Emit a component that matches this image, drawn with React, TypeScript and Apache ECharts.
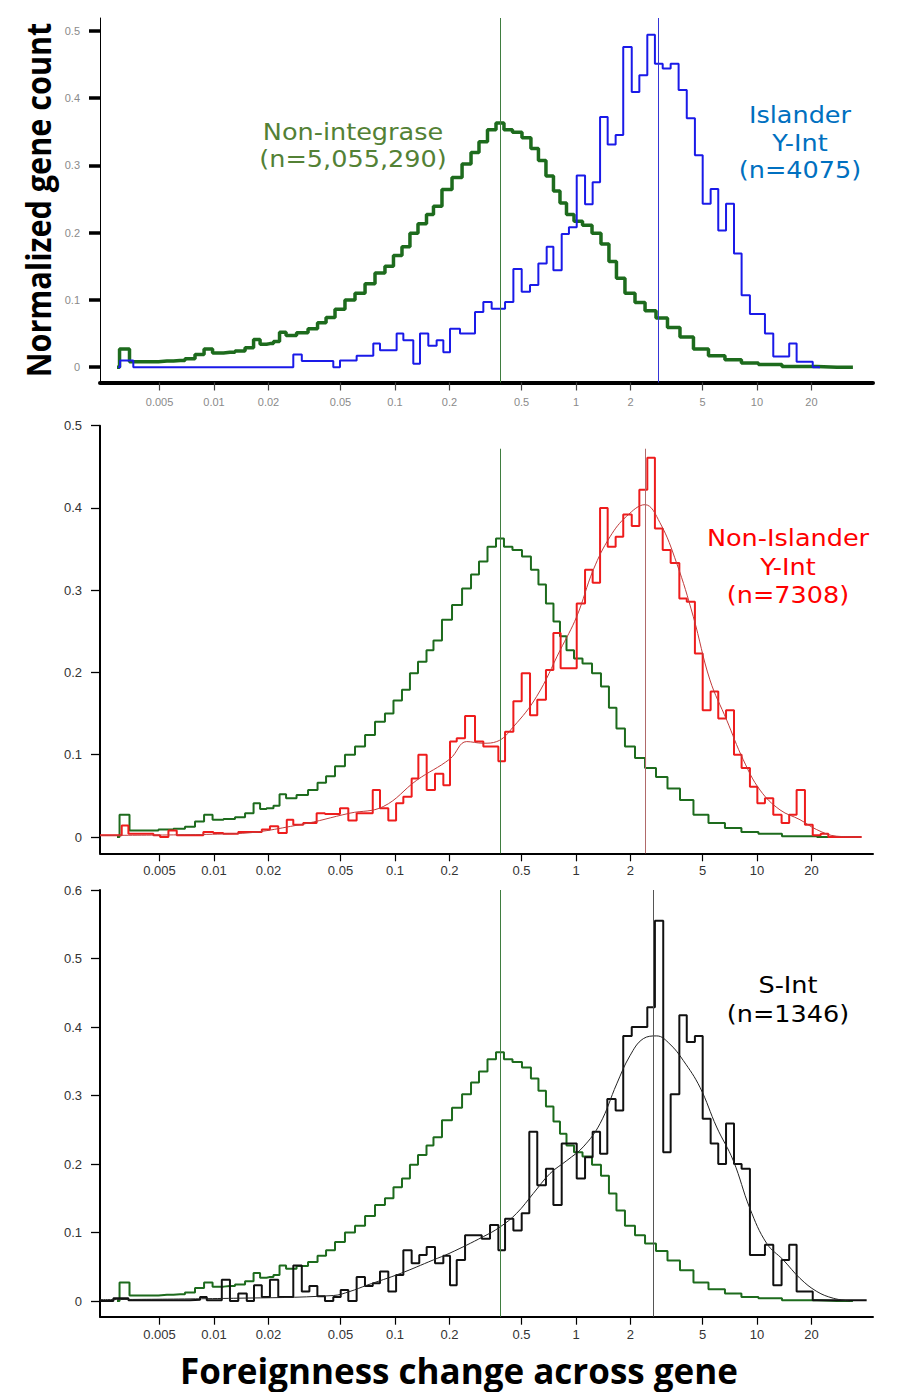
import React, { useEffect, useRef } from 'react';
import * as echarts from 'echarts';

// ---------- axis ticks ----------
const X_TICKS = [0.005, 0.01, 0.02, 0.05, 0.1, 0.2, 0.5, 1, 2, 5, 10, 20];
const Y_TICKS_TOP = [0, 0.1, 0.2, 0.3, 0.4, 0.5];
const Y_TICKS_MID = [0, 0.1, 0.2, 0.3, 0.4, 0.5];
const Y_TICKS_BOT = [0, 0.1, 0.2, 0.3, 0.4, 0.5, 0.6];

// x range, in log10(foreignness change)
const X_MIN_LOG10 = -2.63;
const X_MAX_LOG10 = 1.641;

// medians (vertical lines), raw foreignness change
const NONINT_MEDIAN = 0.38;
const ISLANDER_MEDIAN = 2.84;
const NONISL_MEDIAN = 2.4;
const SINT_MEDIAN = 2.67;

// ---------- Non-integrase (green) : log10(x) samples and normalized counts ----------
const GREEN_X = [-2.536, -2.508, -2.481, -2.453, -2.354, -2.26, -2.188, -2.133, -2.077, -2.033,
  -1.983, -1.912, -1.856, -1.801, -1.762, -1.729, -1.691, -1.652, -1.624, -1.58,
  -1.508, -1.453, -1.403, -1.359, -1.304, -1.249, -1.193, -1.138, -1.083, -1.028,
  -0.989, -0.934, -0.901, -0.845, -0.807, -0.768, -0.713, -0.657, -0.602, -0.558,
  -0.514, -0.464, -0.42, -0.376, -0.326, -0.271, -0.227, -0.188, -0.144, -0.105,
  -0.072, -0.033, 0.011, 0.061, 0.116, 0.16, 0.204, 0.243, 0.298, 0.354,
  0.409, 0.475, 0.536, 0.613, 0.685, 0.779, 0.867, 0.961, 1.055, 1.221,
  1.442, 1.53];
const GREEN_Y = [0, 0.027, 0.027, 0.008, 0.008, 0.009, 0.01, 0.0125, 0.019, 0.027,
  0.021, 0.022, 0.024, 0.029, 0.041, 0.034, 0.035, 0.038, 0.052, 0.047,
  0.051, 0.057, 0.066, 0.074, 0.086, 0.1, 0.11, 0.124, 0.14, 0.15,
  0.166, 0.179, 0.199, 0.213, 0.227, 0.239, 0.264, 0.282, 0.302, 0.319,
  0.335, 0.353, 0.363, 0.353, 0.349, 0.341, 0.325, 0.307, 0.284, 0.262,
  0.244, 0.227, 0.217, 0.211, 0.199, 0.183, 0.157, 0.132, 0.11, 0.096,
  0.084, 0.073, 0.059, 0.045, 0.027, 0.017, 0.011, 0.006, 0.004, 0.001,
  0, 0];

// ---------- Islander Y-Int (blue) histogram: bin edges (log10) and heights ----------
const BLUE_EDGES = [-2.53, -2.519, -2.446, -1.562, -1.515, -1.341, -1.304, -1.212, -1.12, -1.083,
  -0.991, -0.954, -0.899, -0.862, -0.816, -0.77, -0.733, -0.696, -0.641, -0.558,
  -0.512, -0.466, -0.392, -0.346, -0.3, -0.254, -0.208, -0.162, -0.125, -0.079,
  -0.039, 0.004, 0.05, 0.092, 0.133, 0.175, 0.219, 0.261, 0.308, 0.35,
  0.394, 0.436, 0.479, 0.523, 0.567, 0.612, 0.657, 0.7, 0.744, 0.786,
  0.829, 0.873, 0.915, 0.961, 1.044, 1.09, 1.178, 1.219, 1.308, 1.348];
const BLUE_VALUES = [0, 0.01, 0, 0.019, 0.009, 0, 0.01, 0.017, 0.035, 0.025,
  0.05, 0.04, 0.005, 0.05, 0.032, 0.04, 0.022, 0.057, 0.05, 0.082,
  0.097, 0.087, 0.097, 0.146, 0.112, 0.122, 0.154, 0.179, 0.144, 0.198,
  0.208, 0.285, 0.242, 0.275, 0.372, 0.331, 0.345, 0.476, 0.409, 0.434,
  0.494, 0.451, 0.444, 0.451, 0.412, 0.37, 0.315, 0.243, 0.265, 0.203,
  0.243, 0.169, 0.107, 0.079, 0.05, 0.016, 0.035, 0.008, 0];

// ---------- Non-Islander Y-Int (red) histogram ----------
const RED_EDGES = [-2.63, -2.51, -2.473, -2.335, -2.298, -2.252, -2.206, -2.059, -2.004, -1.949,
  -1.866, -1.819, -1.736, -1.691, -1.645, -1.598, -1.562, -1.507, -1.433, -1.387,
  -1.304, -1.258, -1.212, -1.166, -1.123, -1.083, -1.037, -0.994, -0.954, -0.908,
  -0.871, -0.825, -0.779, -0.733, -0.696, -0.659, -0.613, -0.558, -0.512, -0.429,
  -0.392, -0.346, -0.3, -0.254, -0.214, -0.166, -0.125, -0.085, 0.004, 0.05,
  0.092, 0.133, 0.175, 0.219, 0.261, 0.308, 0.35, 0.394, 0.436, 0.479,
  0.523, 0.571, 0.612, 0.657, 0.7, 0.744, 0.786, 0.829, 0.873, 0.915,
  0.961, 1.002, 1.044, 1.09, 1.136, 1.178, 1.219, 1.265, 1.308, 1.352,
  1.394, 1.578];
const RED_VALUES = [0.002, 0.014, 0.004, 0.002, 0, 0.008, 0.002, 0.006, 0.005, 0.004,
  0.006, 0.006, 0.009, 0.013, 0.005, 0.021, 0.015, 0.017, 0.029, 0.028,
  0.035, 0.02, 0.029, 0.029, 0.057, 0.035, 0.02, 0.041, 0.049, 0.071,
  0.1, 0.057, 0.077, 0.063, 0.116, 0.12, 0.147, 0.116, 0.11, 0.092,
  0.128, 0.165, 0.199, 0.148, 0.167, 0.203, 0.248, 0.205, 0.284, 0.325,
  0.309, 0.4, 0.353, 0.365, 0.392, 0.378, 0.422, 0.461, 0.375, 0.349,
  0.333, 0.29, 0.286, 0.223, 0.154, 0.177, 0.144, 0.154, 0.1, 0.084,
  0.061, 0.041, 0.047, 0.027, 0.017, 0.027, 0.057, 0.015, 0.002, 0.004,
  0];
const RED_FIT_X = [-2.63, -1.893, -1.525, -1.249, -1.065, -0.88, -0.696, -0.604, -0.512, -0.438,
  -0.346, -0.217, -0.088, 0.004, 0.096, 0.188, 0.28, 0.381, 0.464, 0.556,
  0.648, 0.74, 0.833, 0.924, 1.017, 1.127, 1.238, 1.33, 1.44, 1.578];
const RED_FIT_Y = [0.002, 0.004, 0.015, 0.029, 0.037, 0.069, 0.095, 0.116, 0.114, 0.116,
  0.134, 0.171, 0.227, 0.268, 0.325, 0.365, 0.39, 0.404, 0.382, 0.333,
  0.268, 0.191, 0.142, 0.094, 0.057, 0.033, 0.021, 0.009, 0.001, 0];

// ---------- S-Int (black) histogram ----------
const BLACK_EDGES = [-2.63, -2.556, -2.473, -2.133, -2.077, -2.04, -1.957, -1.912, -1.866, -1.819,
  -1.779, -1.736, -1.691, -1.645, -1.562, -1.515, -1.473, -1.429, -1.387, -1.341,
  -1.3, -1.258, -1.212, -1.166, -1.123, -1.083, -1.037, -0.994, -0.954, -0.908,
  -0.866, -0.825, -0.779, -0.733,
  -0.696, -0.659, -0.613, -0.521, -0.475, -0.429, -0.392, -0.346, -0.3, -0.258,
  -0.214, -0.166, -0.125, -0.079, 0.004, 0.05, 0.092, 0.133, 0.173, 0.219,
  0.261, 0.308, 0.394, 0.436, 0.482, 0.523, 0.571, 0.612, 0.657, 0.7,
  0.744, 0.786, 0.829, 0.873, 0.915, 0.961, 1.002, 1.044, 1.09, 1.136,
  1.178, 1.219, 1.308, 1.606];
const BLACK_VALUES = [0, 0.004, 0.001, 0.002, 0.006, 0.001, 0.031, 0, 0.011, 0,
  0.023, 0.006, 0.031, 0.006, 0.052, 0.014, 0.022, 0.007, 0, 0.006,
  0.016, 0, 0.035, 0.022, 0.026, 0.043, 0.014, 0.038, 0.074, 0.055,
  0.067, 0.079, 0.055, 0.066,
  0.023, 0.06, 0.096, 0.091, 0.111, 0.074, 0.12, 0.103, 0.128, 0.247,
  0.169, 0.193, 0.14, 0.23, 0.179, 0.21, 0.247, 0.215, 0.295, 0.278,
  0.387, 0.4, 0.429, 0.555, 0.217, 0.302, 0.417, 0.378, 0.387, 0.266,
  0.23, 0.2, 0.259, 0.2, 0.193, 0.067, 0.067, 0.082, 0.023, 0.06,
  0.082, 0.014, 0.001];
const BLACK_FIT_X = [-2.63, -1.893, -1.341, -1.249, -1.156, -0.972, -0.788, -0.696, -0.512, -0.42,
  -0.328, -0.236, -0.144, -0.051, 0.04, 0.133, 0.225, 0.298, 0.372, 0.446,
  0.519, 0.593, 0.685, 0.777, 0.869, 0.961, 1.054, 1.145, 1.238, 1.33,
  1.422, 1.514];
const BLACK_FIT_Y = [0.002, 0.004, 0.008, 0.014, 0.023, 0.04, 0.06, 0.07, 0.094, 0.108,
  0.128, 0.157, 0.186, 0.205, 0.225, 0.259, 0.317, 0.358, 0.383, 0.387,
  0.375, 0.351, 0.312, 0.254, 0.205, 0.135, 0.084, 0.06, 0.033, 0.014,
  0.004, 0];

// ---------- annotation texts ----------
const NONINT_LINES = ['Non-integrase', '(n=5,055,290)'];
const ISLANDER_LINES = ['Islander', 'Y-Int', '(n=4075)'];
const NONISL_LINES = ['Non-Islander', 'Y-Int', '(n=7308)'];
const SINT_LINES = ['S-Int', '(n=1346)'];

// ---------- helpers ----------
const pairs = (xs: number[], ys: number[]) => xs.map((x, i) => [x, ys[i]]);
const histPairs = (edges: number[], vals: number[]) =>
  edges.map((e, i) => [e, vals[Math.min(i, vals.length - 1)]]);
const xFormatter = (v: number) => {
  const t = X_TICKS.find((tk) => Math.abs(Math.log10(tk) - v) < 1e-6);
  return t === undefined ? '' : String(t);
};
const yFormatter = (v: number) => (Math.abs(v) < 1e-9 ? '0' : String(Math.round(v * 10) / 10));

const LABEL_FONT = '"Liberation Sans", Arial, sans-serif';
const TITLE_FONT = '"Open Sans", "Noto Sans", sans-serif';
const NOTE_FONT = '"DejaVu Sans", sans-serif';

function xAxisFor(gridIndex: number, faded: boolean) {
  const vals = X_TICKS.map((t) => Math.log10(t));
  return {
    type: 'value',
    gridIndex,
    min: X_MIN_LOG10,
    max: X_MAX_LOG10,
    axisLine: { show: true, onZero: false, lineStyle: { color: '#000', width: faded ? 4 : 2 } },
    axisTick: { show: true, customValues: vals, length: 8, lineStyle: { color: faded ? '#444' : '#000', width: 1.2 } },
    axisLabel: {
      show: true, customValues: vals, formatter: xFormatter, margin: faded ? 14 : 11,
      fontSize: faded ? 11 : 13, color: faded ? '#8a8a8a' : '#333', fontFamily: LABEL_FONT,
    },
    splitLine: { show: false },
  };
}

function yAxisFor(gridIndex: number, min: number, max: number, ticks: number[], faded: boolean) {
  return {
    type: 'value',
    gridIndex,
    min,
    max,
    axisLine: { show: true, onZero: false, lineStyle: { color: '#000', width: faded ? 1 : 2 } },
    axisTick: { show: true, customValues: ticks, length: faded ? 11 : 9, lineStyle: { color: '#000', width: faded ? 3.5 : 1.3 } },
    axisLabel: {
      show: true, customValues: ticks, formatter: yFormatter, margin: faded ? 20 : 18,
      fontSize: faded ? 11 : 13, color: faded ? '#8a8a8a' : '#333', fontFamily: LABEL_FONT,
    },
    splitLine: { show: false },
  };
}

function vLine(xRaw: number, y0: number, y1: number, color: string) {
  const x = Math.log10(xRaw);
  return [
    { coord: [x, y0], lineStyle: { color, width: 1, type: 'solid' } },
    { coord: [x, y1] },
  ];
}

function noteTexts(lines: string[], cx: number, ys: number[], color: string) {
  return lines.map((t, i) => ({
    type: 'text', x: cx, y: ys[i], scaleX: 1.11,
    style: { text: t, font: `23px ${NOTE_FONT}`, fill: color, align: 'center', verticalAlign: 'middle' },
  }));
}

const TOP_MIN = -0.0228, TOP_MAX = 0.519;
const MID_MIN = -0.0198, MID_MAX = 0.5;
const BOT_MIN = -0.0229, BOT_MAX = 0.6;

export default function App() {
  const ref = useRef<HTMLDivElement | null>(null);
  useEffect(() => {
    if (!ref.current) return;
    const chart = echarts.init(ref.current, null, { renderer: 'svg' });
    const greenData = pairs(GREEN_X, GREEN_Y);
    const markBase = { symbol: ['none', 'none'], silent: true, animation: false, label: { show: false } };
    const option: any = {
      animation: false,
      backgroundColor: '#fff',
      grid: [
        { left: 100, right: 26, top: 18, height: 364.5 },
        { left: 100, right: 26, top: 425.7, height: 427.6 },
        { left: 100, right: 26, top: 890, height: 426.7 },
      ],
      xAxis: [xAxisFor(0, true), xAxisFor(1, false), xAxisFor(2, false)],
      yAxis: [
        yAxisFor(0, TOP_MIN, TOP_MAX, Y_TICKS_TOP, true),
        yAxisFor(1, MID_MIN, MID_MAX, Y_TICKS_MID, false),
        yAxisFor(2, BOT_MIN, BOT_MAX, Y_TICKS_BOT, false),
      ],
      series: [
        // ---- top panel ----
        {
          type: 'line', xAxisIndex: 0, yAxisIndex: 0, data: greenData, step: 'middle', showSymbol: false,
          lineStyle: { color: '#1d6b1d', width: 3.5 }, z: 2,
          markLine: { ...markBase, data: [vLine(NONINT_MEDIAN, TOP_MIN, TOP_MAX, '#3f7d3f'), vLine(ISLANDER_MEDIAN, TOP_MIN, TOP_MAX, '#3535d8')] },
        },
        {
          type: 'line', xAxisIndex: 0, yAxisIndex: 0, data: histPairs(BLUE_EDGES, BLUE_VALUES), step: 'end', showSymbol: false,
          lineStyle: { color: '#1a1ae8', width: 2 }, z: 3,
        },
        // ---- middle panel ----
        {
          type: 'line', xAxisIndex: 1, yAxisIndex: 1, data: greenData, step: 'middle', showSymbol: false,
          lineStyle: { color: '#1d6b1d', width: 2 }, z: 2,
          markLine: { ...markBase, data: [vLine(NONINT_MEDIAN, MID_MIN, 0.472, '#3f7d3f'), vLine(NONISL_MEDIAN, MID_MIN, 0.472, '#b06a6a')] },
        },
        {
          type: 'line', xAxisIndex: 1, yAxisIndex: 1, data: histPairs(RED_EDGES, RED_VALUES), step: 'end', showSymbol: false,
          lineStyle: { color: '#ee1c1c', width: 2 }, z: 3,
        },
        {
          type: 'line', xAxisIndex: 1, yAxisIndex: 1, data: pairs(RED_FIT_X, RED_FIT_Y), smooth: 0.4, showSymbol: false,
          lineStyle: { color: '#c23a3a', width: 1 }, z: 4,
        },
        // ---- bottom panel ----
        {
          type: 'line', xAxisIndex: 2, yAxisIndex: 2, data: greenData, step: 'middle', showSymbol: false,
          lineStyle: { color: '#1d6b1d', width: 2 }, z: 2,
          markLine: { ...markBase, data: [vLine(NONINT_MEDIAN, BOT_MIN, BOT_MAX, '#3f7d3f'), vLine(SINT_MEDIAN, BOT_MIN, BOT_MAX, '#555')] },
        },
        {
          type: 'line', xAxisIndex: 2, yAxisIndex: 2, data: histPairs(BLACK_EDGES, BLACK_VALUES), step: 'end', showSymbol: false,
          lineStyle: { color: '#111', width: 2 }, z: 3,
        },
        {
          type: 'line', xAxisIndex: 2, yAxisIndex: 2, data: pairs(BLACK_FIT_X, BLACK_FIT_Y), smooth: 0.4, showSymbol: false,
          lineStyle: { color: '#222', width: 1 }, z: 4,
        },
      ],
      graphic: [
        {
          type: 'text', x: 37, y: 200, rotation: Math.PI / 2, scaleX: 0.9,
          style: { text: 'Normalized gene count', font: `bold 34px ${TITLE_FONT}`, fill: '#000', align: 'center', verticalAlign: 'middle' },
        },
        {
          type: 'text', x: 459, y: 1370,
          style: { text: 'Foreignness change across gene', font: `bold 35px ${TITLE_FONT}`, fill: '#000', align: 'center', verticalAlign: 'middle' },
        },
        ...noteTexts(NONINT_LINES, 353, [132, 159], '#538135'),
        ...noteTexts(ISLANDER_LINES, 800, [115, 142.5, 170], '#0070c0'),
        ...noteTexts(NONISL_LINES, 788, [538, 567, 595], '#ff0000'),
        ...noteTexts(SINT_LINES, 788, [985, 1014], '#000'),
      ],
    };
    chart.setOption(option);
    return () => chart.dispose();
  }, []);
  return (
    <div
      ref={ref}
      style={{ position: 'absolute', left: 0, top: 0, width: 899, height: 1392, background: '#fff' }}
    />
  );
}
